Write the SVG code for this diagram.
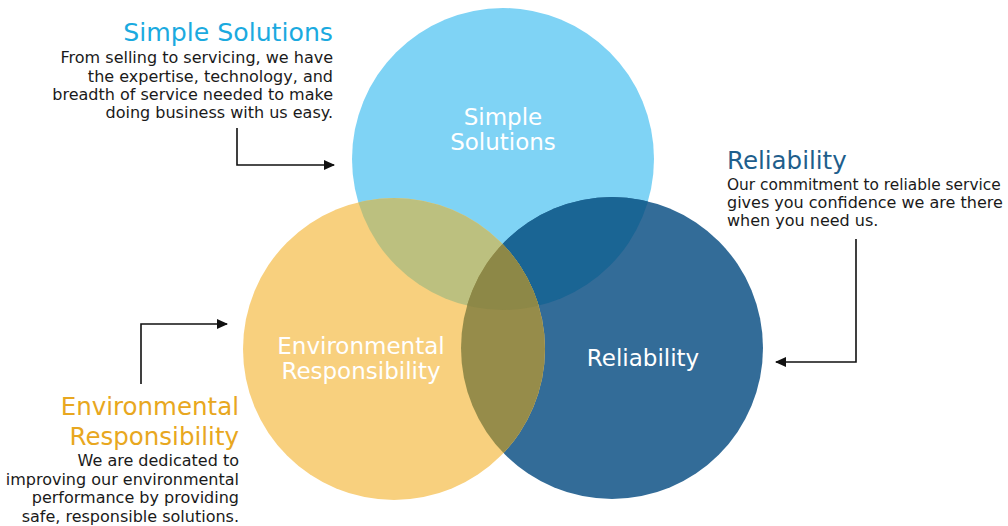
<svg xmlns="http://www.w3.org/2000/svg" width="1008" height="526" viewBox="0 0 1008 526">
  <style>
    text { font-family: "DejaVu Sans", Verdana, sans-serif; }
    .head { font-size: 24.5px; }
    .body { font-size: 16px; fill: #1a1a1a; }
    .inner { font-size: 23px; fill: #ffffff; text-anchor: middle; }
    .conn { fill: none; stroke: #111111; stroke-width: 1.6; }
  </style>
  <defs>
    <clipPath id="clipLB"><circle cx="503" cy="159" r="151"/></clipPath>
    <clipPath id="clipDB"><circle cx="612" cy="348" r="151"/></clipPath>
    <marker id="arrow" markerUnits="userSpaceOnUse" markerWidth="12" markerHeight="10" refX="10" refY="5" orient="auto">
      <path d="M0,0 L11,5 L0,10 Z" fill="#111111"/>
    </marker>
  </defs>
  <rect width="1008" height="526" fill="#ffffff"/>

  <g id="circle-simple-solutions">
    <circle cx="503" cy="159" r="151" fill="#7FD3F5"/>
  </g>
  <g id="circle-reliability">
    <circle cx="612" cy="348" r="151" fill="#336C98"/>
    <circle cx="612" cy="348" r="151" fill="#1A6594" clip-path="url(#clipLB)"/>
  </g>
  <g id="circle-environmental">
    <circle cx="394" cy="349" r="151" fill="#F8D07E"/>
    <circle cx="394" cy="349" r="151" fill="#BCC07F" clip-path="url(#clipLB)"/>
    <circle cx="394" cy="349" r="151" fill="#968C4A" clip-path="url(#clipDB)"/>
    <g clip-path="url(#clipLB)">
      <circle cx="394" cy="349" r="151" fill="#8D8847" clip-path="url(#clipDB)"/>
    </g>
  </g>

  <g id="label-simple-inner">
    <text class="inner" x="503" y="125">Simple</text>
    <text class="inner" x="503" y="150">Solutions</text>
  </g>
  <g id="label-env-inner">
    <text class="inner" x="361" y="354">Environmental</text>
    <text class="inner" x="361" y="379">Responsibility</text>
  </g>
  <g id="label-rel-inner">
    <text class="inner" x="643" y="366">Reliability</text>
  </g>

  <g id="callout-simple" text-anchor="end">
    <text class="head" x="333" y="41" fill="#1BAADF" style="font-size:25.2px">Simple Solutions</text>
    <text class="body" x="333" y="63">From selling to servicing, we have</text>
    <text class="body" x="333" y="82">the expertise, technology, and</text>
    <text class="body" x="333" y="100">breadth of service needed to make</text>
    <text class="body" x="333" y="118">doing business with us easy.</text>
  </g>
  <g id="callout-reliability">
    <text class="head" x="727" y="169" fill="#1E5E8C">Reliability</text>
    <text class="body" x="727" y="190" style="font-size:15.4px">Our commitment to reliable service</text>
    <text class="body" x="727" y="208">gives you confidence we are there</text>
    <text class="body" x="727" y="226">when you need us.</text>
  </g>
  <g id="callout-environmental" text-anchor="end">
    <text class="head" x="239" y="415" fill="#E8A720">Environmental</text>
    <text class="head" x="239" y="445" fill="#E8A720">Responsibility</text>
    <text class="body" x="239" y="466">We are dedicated to</text>
    <text class="body" x="239" y="485">improving our environmental</text>
    <text class="body" x="239" y="503">performance by providing</text>
    <text class="body" x="239" y="522">safe, responsible solutions.</text>
  </g>

  <g id="connectors">
    <path class="conn" d="M237,128 V165 H334" marker-end="url(#arrow)"/>
    <path class="conn" d="M856,239 V362 H776" marker-end="url(#arrow)"/>
    <path class="conn" d="M141,384 V324 H227" marker-end="url(#arrow)"/>
  </g>
</svg>
